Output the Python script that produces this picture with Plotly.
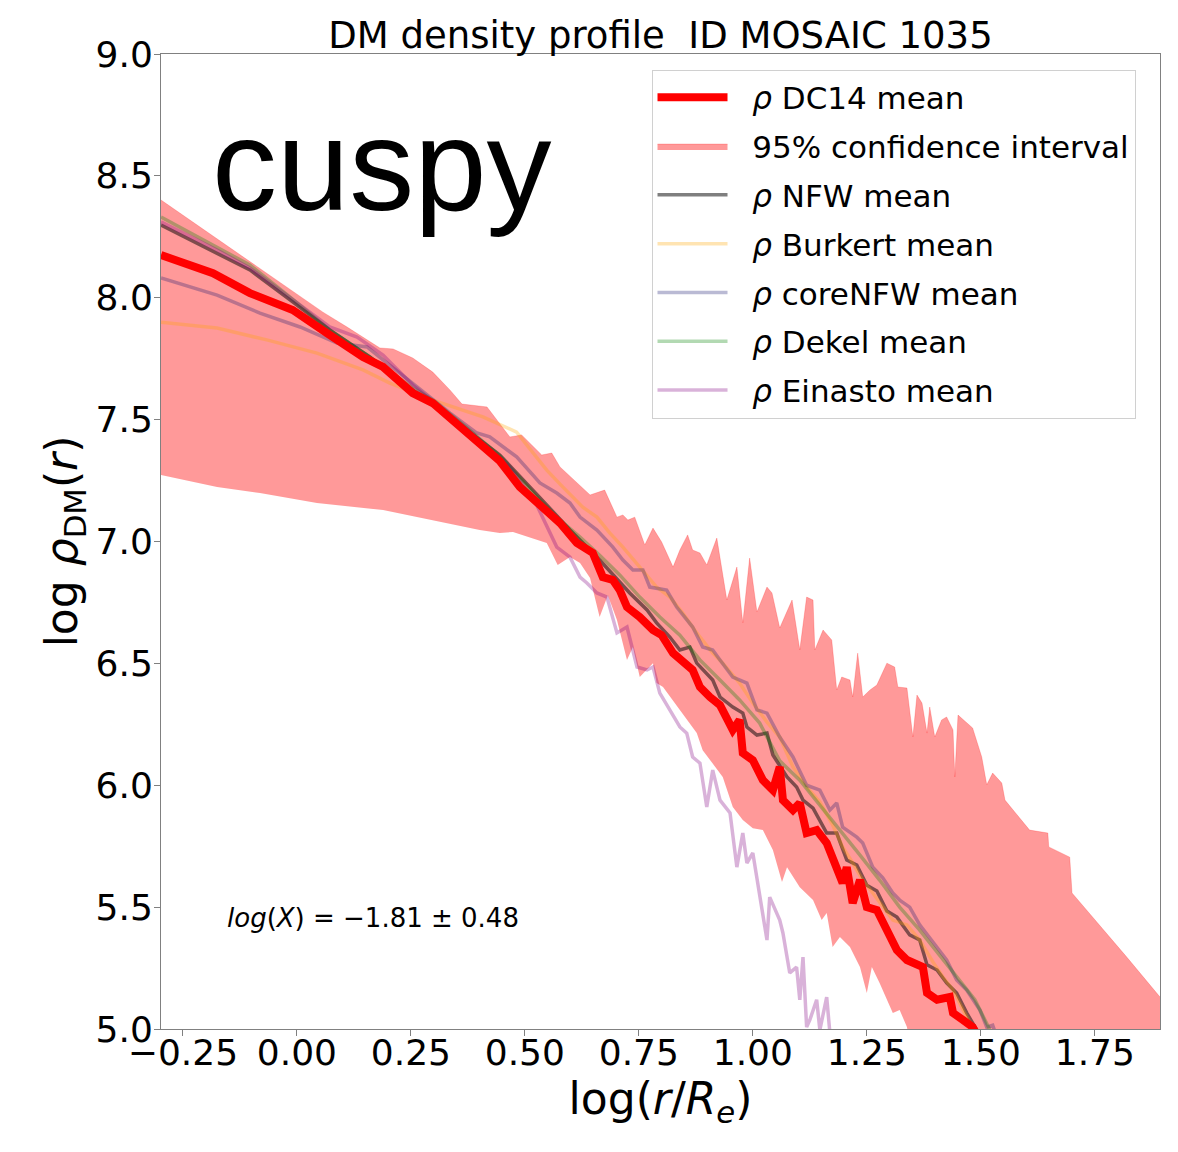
import plotly.graph_objects as go

# ---- data (x = log(r/Re), y = log rho_DM) ----
band_up_x = [-0.298, -0.037, 0.057, 0.110, 0.182, 0.211, 0.254, 0.298, 0.336, 0.362, 0.417, 0.467, 0.493,
             0.537, 0.559, 0.577, 0.603, 0.643, 0.675, 0.702, 0.715, 0.726, 0.741, 0.763, 0.781, 0.800,
             0.825, 0.840, 0.857, 0.868, 0.884, 0.899, 0.921, 0.943, 0.965, 0.978, 0.993, 1.009, 1.031,
             1.042, 1.059, 1.086, 1.103, 1.118, 1.132, 1.136, 1.154, 1.173, 1.184, 1.195, 1.213, 1.219,
             1.230, 1.241, 1.257, 1.272, 1.294, 1.311, 1.318, 1.338, 1.351, 1.360, 1.371, 1.382, 1.388,
             1.399, 1.414, 1.425, 1.439, 1.443, 1.450, 1.482, 1.502, 1.513, 1.526, 1.546, 1.553, 1.607,
             1.647, 1.649, 1.695, 1.700, 1.820, 1.893]
band_up_y = [8.401, 8.065, 7.941, 7.880, 7.794, 7.790, 7.753, 7.695, 7.621, 7.564, 7.552, 7.429, 7.437,
             7.355, 7.363, 7.306, 7.260, 7.191, 7.211, 7.100, 7.109, 7.088, 7.100, 6.986, 7.055, 6.998,
             6.895, 6.965, 7.027, 6.965, 6.953, 6.904, 7.014, 6.760, 6.895, 6.666, 6.932, 6.711, 6.813,
             6.789, 6.645, 6.760, 6.555, 6.772, 6.760, 6.555, 6.637, 6.596, 6.391, 6.444, 6.432, 6.362,
             6.542, 6.362, 6.391, 6.411, 6.501, 6.485, 6.403, 6.399, 6.198, 6.370, 6.337, 6.214, 6.321,
             6.198, 6.268, 6.280, 6.227, 6.034, 6.288, 6.235, 6.116, 6.002, 6.050, 6.009, 5.939, 5.816,
             5.804, 5.747, 5.705, 5.558, 5.295, 5.131]

band_lo_x = [-0.298, -0.175, -0.081, 0.044, 0.189, 0.298, 0.401, 0.445, 0.474, 0.548, 0.572, 0.599, 0.621,
             0.643, 0.664, 0.682, 0.702, 0.724, 0.737, 0.752, 0.781, 0.789, 0.803, 0.840, 0.877, 0.890,
             0.912, 0.934, 0.956, 0.978, 1.000, 1.022, 1.044, 1.064, 1.075, 1.103, 1.132, 1.151, 1.162,
             1.175, 1.191, 1.213, 1.235, 1.250, 1.261, 1.278, 1.307, 1.322, 1.338, 1.351, 1.450, 1.600,
             1.893]
band_lo_y = [7.273, 7.224, 7.199, 7.158, 7.129, 7.088, 7.047, 7.035, 7.039, 6.994, 6.904, 6.936, 6.912,
             6.850, 6.690, 6.780, 6.678, 6.514, 6.567, 6.444, 6.501, 6.419, 6.403, 6.309, 6.214, 6.144,
             6.091, 6.034, 5.911, 5.857, 5.824, 5.816, 5.734, 5.603, 5.664, 5.582, 5.529, 5.447, 5.476,
             5.336, 5.377, 5.336, 5.254, 5.148, 5.254, 5.189, 5.066, 5.078, 5.008, 4.870, 4.600, 4.200,
             3.600]

dc14_x = [-0.298, -0.184, -0.103, -0.009, 0.066, 0.145, 0.189, 0.254, 0.298, 0.351, 0.401, 0.445, 0.489,
          0.548, 0.577, 0.614, 0.649, 0.671, 0.693, 0.708, 0.724, 0.752, 0.781, 0.800, 0.825, 0.868, 0.884,
          0.906, 0.928, 0.956, 0.971, 0.978, 1.000, 1.022, 1.044, 1.059, 1.066, 1.088, 1.103, 1.118, 1.140,
          1.162, 1.175, 1.197, 1.206, 1.219, 1.235, 1.250, 1.272, 1.294, 1.316, 1.338, 1.360, 1.373, 1.382,
          1.404, 1.432, 1.439, 1.461, 1.482, 1.498]
dc14_y = [8.175, 8.101, 8.019, 7.950, 7.855, 7.757, 7.716, 7.609, 7.568, 7.486, 7.404, 7.330, 7.224,
          7.129, 7.076, 6.994, 6.953, 6.854, 6.842, 6.801, 6.731, 6.690, 6.637, 6.616, 6.542, 6.473, 6.403,
          6.362, 6.329, 6.227, 6.268, 6.132, 6.103, 6.021, 5.980, 6.075, 5.939, 5.898, 5.927, 5.804, 5.816,
          5.763, 5.693, 5.599, 5.664, 5.517, 5.611, 5.500, 5.488, 5.406, 5.324, 5.283, 5.263, 5.254, 5.148,
          5.120, 5.131, 5.066, 5.037, 5.008, 4.955]

nfw_x = [-0.298, -0.175, -0.103, -0.015, 0.072, 0.160, 0.254, 0.336, 0.401, 0.445, 0.533, 0.599, 0.664,
         0.693, 0.730, 0.768, 0.789, 0.818, 0.840, 0.862, 0.877, 0.912, 0.928, 0.956, 0.978, 0.987, 1.009,
         1.031, 1.044, 1.075, 1.096, 1.110, 1.132, 1.162, 1.184, 1.206, 1.228, 1.250, 1.272, 1.294, 1.316,
         1.344, 1.366, 1.382, 1.404, 1.425, 1.447, 1.469, 1.491, 1.513]
nfw_y = [8.298, 8.184, 8.114, 7.991, 7.868, 7.757, 7.621, 7.511, 7.416, 7.355, 7.180, 7.047, 6.924,
         6.863, 6.789, 6.719, 6.666, 6.608, 6.555, 6.567, 6.501, 6.432, 6.362, 6.321, 6.296, 6.239, 6.206,
         6.214, 6.124, 6.034, 5.993, 5.939, 5.906, 5.804, 5.804, 5.693, 5.673, 5.590, 5.566, 5.484, 5.459,
         5.386, 5.365, 5.263, 5.242, 5.189, 5.148, 5.066, 4.996, 4.910]

burkert_x = [-0.298, -0.175, -0.066, 0.044, 0.145, 0.204, 0.298, 0.408, 0.482, 0.548, 0.583, 0.627, 0.658,
             0.686, 0.715, 0.752, 0.789, 0.818, 0.846, 0.877, 0.912, 0.934, 0.971, 1.000, 1.031, 1.059,
             1.088, 1.118, 1.147, 1.175, 1.197, 1.219, 1.241, 1.263, 1.285, 1.307, 1.338, 1.366, 1.395,
             1.417, 1.439, 1.461, 1.482, 1.502]
burkert_y = [7.900, 7.876, 7.827, 7.773, 7.704, 7.650, 7.580, 7.511, 7.449, 7.293, 7.224, 7.141, 7.100,
             7.035, 6.977, 6.895, 6.813, 6.772, 6.707, 6.625, 6.542, 6.501, 6.419, 6.337, 6.259, 6.198,
             6.075, 5.993, 5.931, 5.837, 5.747, 5.681, 5.611, 5.558, 5.500, 5.447, 5.427, 5.365, 5.275,
             5.213, 5.160, 5.078, 5.008, 4.935]

corenfw_x = [-0.298, -0.175, -0.081, 0.007, 0.088, 0.154, 0.189, 0.263, 0.336, 0.395, 0.423, 0.482, 0.533,
             0.570, 0.599, 0.621, 0.658, 0.693, 0.715, 0.737, 0.759, 0.774, 0.811, 0.833, 0.868, 0.890,
             0.912, 0.928, 0.956, 0.987, 1.009, 1.031, 1.059, 1.088, 1.118, 1.147, 1.169, 1.184, 1.197,
             1.228, 1.241, 1.263, 1.285, 1.307, 1.322, 1.344, 1.366, 1.395, 1.425, 1.447, 1.469, 1.498,
             1.513, 1.526, 1.542]
corenfw_y = [8.081, 8.011, 7.937, 7.880, 7.814, 7.798, 7.745, 7.634, 7.527, 7.445, 7.429, 7.347, 7.240,
             7.199, 7.158, 7.100, 7.047, 6.977, 6.924, 6.883, 6.883, 6.813, 6.801, 6.731, 6.649, 6.567,
             6.555, 6.514, 6.444, 6.419, 6.309, 6.296, 6.198, 6.116, 6.000, 5.980, 5.898, 5.927, 5.828,
             5.787, 5.763, 5.664, 5.620, 5.558, 5.529, 5.500, 5.427, 5.357, 5.283, 5.201, 5.160, 5.078,
             5.008, 5.016, 4.930]

dekel_x = [-0.298, -0.175, -0.103, -0.015, 0.072, 0.160, 0.254, 0.298, 0.373, 0.445, 0.489, 0.533, 0.577,
           0.621, 0.664, 0.708, 0.752, 0.796, 0.840, 0.884, 0.928, 0.971, 1.015, 1.059, 1.103, 1.147, 1.191,
           1.235, 1.278, 1.322, 1.366, 1.410, 1.454, 1.487, 1.520]
dekel_y = [8.331, 8.208, 8.134, 8.003, 7.868, 7.757, 7.630, 7.580, 7.466, 7.351, 7.260, 7.170, 7.088,
           7.018, 6.944, 6.863, 6.772, 6.690, 6.616, 6.514, 6.432, 6.350, 6.255, 6.100, 6.021, 5.920, 5.816,
           5.713, 5.611, 5.500, 5.406, 5.303, 5.201, 5.120, 4.996]

einasto_x = [-0.298, -0.175, -0.103, -0.009, 0.072, 0.132, 0.189, 0.254, 0.336, 0.401, 0.467, 0.526, 0.570,
             0.599, 0.621, 0.636, 0.658, 0.680, 0.702, 0.724, 0.746, 0.768, 0.781, 0.796, 0.818, 0.840,
             0.855, 0.868, 0.884, 0.899, 0.912, 0.928, 0.950, 0.965, 0.978, 0.987, 1.000, 1.015, 1.031,
             1.037, 1.059, 1.066, 1.081, 1.096, 1.103, 1.110, 1.118, 1.125, 1.140, 1.147, 1.162, 1.169,
             1.191]
einasto_y = [8.311, 8.196, 8.122, 7.991, 7.880, 7.839, 7.765, 7.642, 7.519, 7.416, 7.306, 7.150, 6.977,
             6.936, 6.854, 6.830, 6.789, 6.772, 6.625, 6.649, 6.485, 6.473, 6.485, 6.378, 6.309, 6.239,
             6.214, 6.116, 6.091, 5.911, 6.062, 5.939, 5.886, 5.664, 5.804, 5.681, 5.722, 5.558, 5.365,
             5.541, 5.447, 5.394, 5.230, 5.254, 5.120, 5.295, 5.008, 5.037, 5.120, 4.996, 5.131, 4.984,
             4.830]

x_ticks = [-0.25, 0.0, 0.25, 0.5, 0.75, 1.0, 1.25, 1.5, 1.75]
y_ticks = [5.0, 5.5, 6.0, 6.5, 7.0, 7.5, 8.0, 8.5, 9.0]

FONT = "DejaVu Sans"
PAD = "&nbsp;&nbsp;"

fig = go.Figure()

# confidence band
fig.add_trace(go.Scatter(x=band_lo_x, y=band_lo_y, mode="lines", line=dict(width=0, color="rgba(255,0,0,0)"),
                         showlegend=False, hoverinfo="skip", legendgroup="band"))
fig.add_trace(go.Scatter(x=band_up_x, y=band_up_y, mode="lines", fill="tonexty",
                         fillcolor="rgba(255,0,0,0.4)", line=dict(width=0.5, color="rgba(255,0,0,0.4)"),
                         name=PAD + "95% confidence interval", legendgroup="band", legendrank=2))

models = [
    ("<i>ρ</i> NFW mean", nfw_x, nfw_y, "rgba(0,0,0,0.5)", 3.5),
    ("<i>ρ</i> Burkert mean", burkert_x, burkert_y, "rgba(255,165,0,0.3)", 3.5),
    ("<i>ρ</i> coreNFW mean", corenfw_x, corenfw_y, "rgba(25,25,112,0.3)", 3.5),
    ("<i>ρ</i> Dekel mean", dekel_x, dekel_y, "rgba(0,128,0,0.3)", 3.5),
    ("<i>ρ</i> Einasto mean", einasto_x, einasto_y, "rgba(128,0,128,0.3)", 3.5),
]
for i, (nm, xs, ys, col, w) in enumerate(models):
    fig.add_trace(go.Scatter(x=xs, y=ys, mode="lines", line=dict(color=col, width=w),
                             name=PAD + nm, legendgroup="g%d" % i, legendrank=3 + i))

fig.add_trace(go.Scatter(x=dc14_x, y=dc14_y, mode="lines", line=dict(color="red", width=8),
                         name=PAD + "<i>ρ</i> DC14 mean", legendgroup="dc14", legendrank=1))

axis_common = dict(showgrid=False, zeroline=False, showline=True, linecolor="#808080", linewidth=1,
                   mirror=True, ticks="outside", ticklen=6, tickcolor="#808080",
                   tickfont=dict(family=FONT, size=36, color="black"))

fig.update_layout(
    width=1178, height=1152, autosize=False,
    margin=dict(l=161, r=18, t=54, b=123),
    plot_bgcolor="white", paper_bgcolor="white",
    font=dict(family=FONT, color="black"),
    title=dict(text="DM density profile&nbsp;&nbsp;ID MOSAIC 1035", x=0.5, xref="paper", xanchor="center",
               y=1 - 35 / 1152, yanchor="middle", font=dict(family=FONT, size=37, color="black")),
    xaxis=dict(range=[-0.298, 1.893], tickvals=x_ticks, tickformat=".2f", ticklabelstandoff=-14,
               title=dict(text="log(<i>r</i>/<i>R</i><sub><i>e</i></sub>)", font=dict(family=FONT, size=44),
                          standoff=10),
               **axis_common),
    yaxis=dict(range=[5.0, 9.0], tickvals=y_ticks, tickformat=".1f", ticklabelstandoff=-6,
               title=dict(text="log <i>ρ</i><sub>DM</sub>(<i>r</i>)", font=dict(family=FONT, size=44),
                          standoff=4),
               **axis_common),
    legend=dict(x=0.491, y=0.984, xanchor="left", yanchor="top", bgcolor="rgba(255,255,255,0.85)",
                bordercolor="#d0d0d0", borderwidth=1, font=dict(family=FONT, size=31),
                tracegroupgap=5.5, itemwidth=70),
    annotations=[
        dict(text="cuspy", xref="paper", yref="paper", x=0.049, y=0.886, xanchor="left", yanchor="middle",
             showarrow=False, font=dict(family="Liberation Sans", size=130, color="black")),
        dict(text="<i>log</i>(<i>X</i>) = −1.81 ± 0.48", xref="paper", yref="paper", x=0.064, y=0.114,
             xanchor="left", yanchor="middle", showarrow=False,
             font=dict(family=FONT, size=26, color="black")),
    ],
)

fig.write_html("out.html")
